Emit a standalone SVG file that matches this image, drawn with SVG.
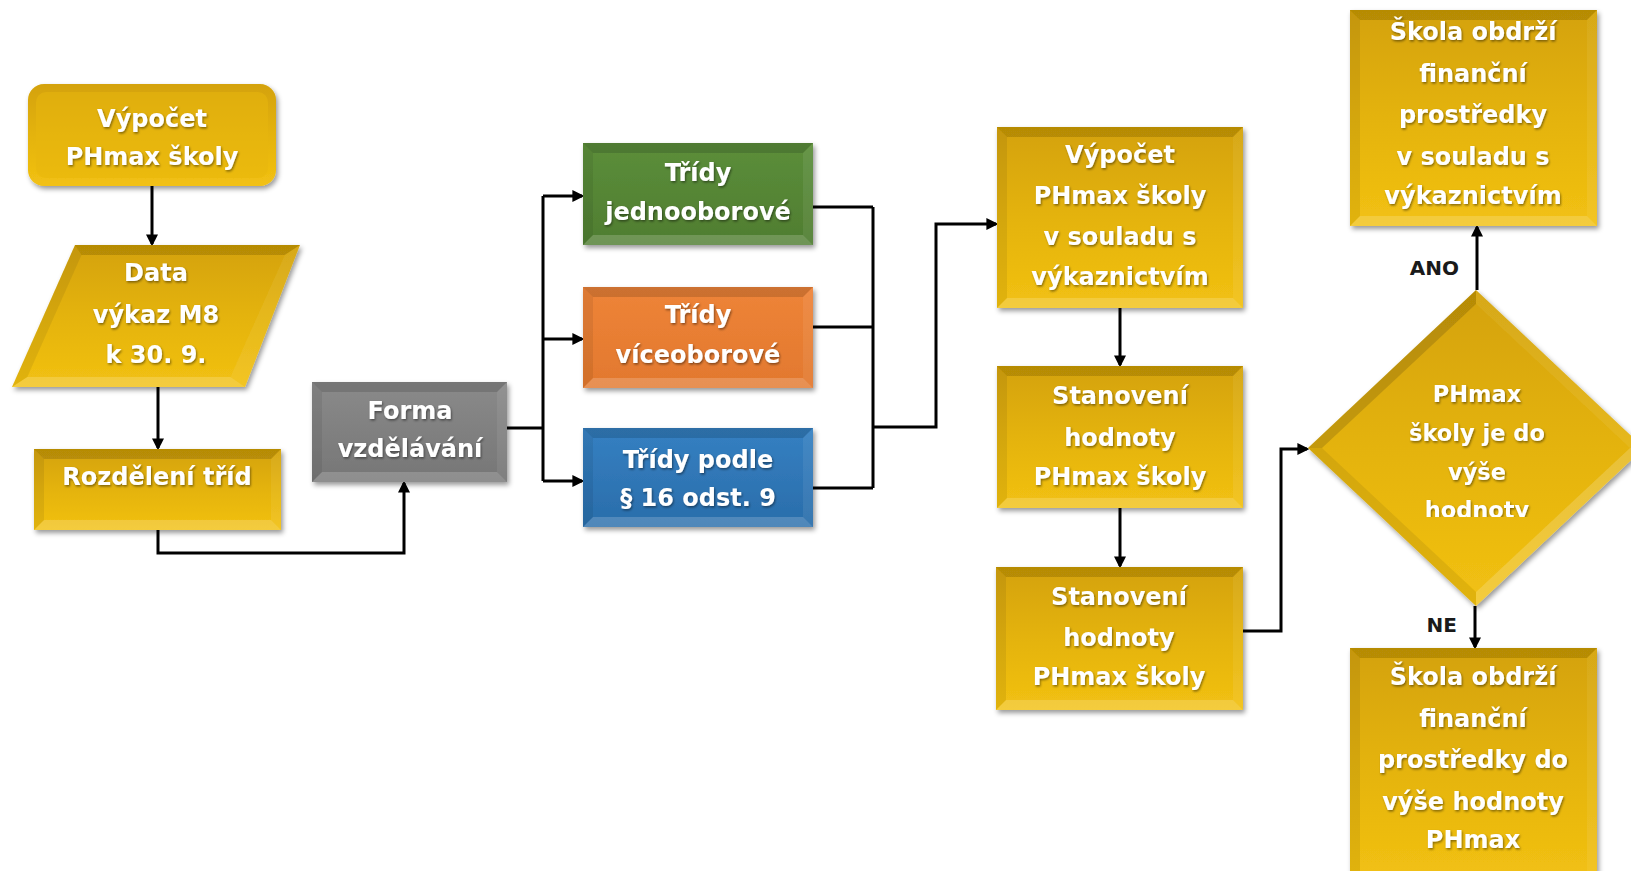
<svg xmlns="http://www.w3.org/2000/svg" width="1631" height="871" viewBox="0 0 1631 871">
<defs>
<style>
.t{font-family:"DejaVu Sans","Liberation Sans",sans-serif;font-weight:bold;font-size:24px;fill:#fff;text-anchor:middle}
.td{font-size:22.5px}
.lbl{font-family:"DejaVu Sans","Liberation Sans",sans-serif;font-weight:bold;font-size:20px;fill:#1a1a1a;text-anchor:end}
.gold{fill:url(#gGold)}
.green{fill:url(#gGreen)}
.orange{fill:url(#gOrange)}
.blue{fill:url(#gBlue)}
.gray{fill:url(#gGray)}
.bt{fill:#000;opacity:.14}
.bl{fill:#000;opacity:.07}
.bb{fill:#fff;opacity:.18}
.br{fill:#fff;opacity:.07}
.c{fill:none;stroke:#000;stroke-width:3;stroke-linejoin:miter}
.a{marker-end:url(#ah)}
</style>
<linearGradient id="gGold" x1="0" y1="0" x2="0" y2="1">
<stop offset="0" stop-color="#D4A208"/><stop offset="0.5" stop-color="#E4B30C"/><stop offset="1" stop-color="#F2C113"/>
</linearGradient>
<linearGradient id="gGreen" x1="0" y1="0" x2="0" y2="1">
<stop offset="0" stop-color="#5C8E3A"/><stop offset="1" stop-color="#4F7D31"/>
</linearGradient>
<linearGradient id="gOrange" x1="0" y1="0" x2="0" y2="1">
<stop offset="0" stop-color="#EE8438"/><stop offset="1" stop-color="#E2782E"/>
</linearGradient>
<linearGradient id="gBlue" x1="0" y1="0" x2="0" y2="1">
<stop offset="0" stop-color="#3580C2"/><stop offset="1" stop-color="#2A6DAA"/>
</linearGradient>
<linearGradient id="gGray" x1="0" y1="0" x2="0" y2="1">
<stop offset="0" stop-color="#8A8A8A"/><stop offset="1" stop-color="#767676"/>
</linearGradient>
<filter id="sh" x="-10%" y="-10%" width="125%" height="130%">
<feDropShadow dx="2" dy="3" stdDeviation="2.5" flood-color="#000" flood-opacity="0.4"/>
</filter>
<filter id="ts" x="-10%" y="-20%" width="120%" height="150%">
<feDropShadow dx="1" dy="1.5" stdDeviation="1" flood-color="#000" flood-opacity="0.45"/>
</filter>
<clipPath id="dclip"><rect x="1300" y="280" width="340" height="237"/></clipPath>
<marker id="ah" viewBox="0 0 10 10" refX="8" refY="5" markerWidth="4" markerHeight="4" markerUnits="strokeWidth" orient="auto">
<path d="M0,0 L10,5 L0,10 z" fill="#000"/>
</marker>
</defs>

<rect width="1631" height="871" fill="#fff"/>

<g id="connectors">
<path class="c a" d="M152,186 V244"/>
<path class="c a" d="M158,387 V448"/>
<path class="c a" d="M158,530 V553 H404 V483"/>
<path class="c" d="M507,428 H543 M543,196 V481"/>
<path class="c a" d="M543,196 H582"/>
<path class="c a" d="M543,339 H582"/>
<path class="c a" d="M543,481 H582"/>
<path class="c" d="M813,207 H873 M813,327 H873 M813,488 H873 M873,207 V488"/>
<path class="c a" d="M873,427 H936 V224 H996"/>
<path class="c a" d="M1120,308 V365"/>
<path class="c a" d="M1120,508 V566"/>
<path class="c a" d="M1243,631 H1281 V449 H1307"/>
<path class="c a" d="M1477,290 V227"/>
<path class="c a" d="M1475,606 V647"/>
<text class="lbl" x="1459" y="275">ANO</text>
<text class="lbl" x="1457" y="632">NE</text>
</g>

<g id="n-vypocet">
<g filter="url(#sh)">
<rect x="28" y="84" width="248" height="102" rx="16" class="gold"/>
<rect x="36" y="92" width="232" height="86" rx="10" fill="#E7B70E" opacity="0.55"/>
</g>
<g filter="url(#ts)">
<text class="t" x="152" y="127">Výpočet</text>
<text class="t" x="152" y="165">PHmax školy</text>
</g>
</g>

<g id="n-data">
<g filter="url(#sh)">
<polygon class="gold" points="75,245 300,245 245,387 12,387"/>
<polygon class="bt" points="75,245 300,245 284.7,255 81.5,255"/>
<polygon class="bb" points="12,387 245,387 230.5,377 27.3,377"/>
<polygon class="bl" points="75,245 81.5,255 27.3,377 12,387"/>
<polygon class="br" points="300,245 284.7,255 230.5,377 245,387"/>
</g>
<g filter="url(#ts)">
<text class="t" x="156" y="281">Data</text>
<text class="t" x="156" y="323">výkaz M8</text>
<text class="t" x="156" y="363">k 30. 9.</text>
</g>
</g>

<g id="n-rozdeleni">
<g filter="url(#sh)">
<rect x="34" y="449" width="247" height="81" class="gold"/>
<polygon class="bt" points="34,449 281,449 271,459 44,459"/>
<polygon class="bb" points="34,530 281,530 271,520 44,520"/>
<polygon class="bl" points="34,449 44,459 44,520 34,530"/>
<polygon class="br" points="281,449 271,459 271,520 281,530"/>
</g>
<g filter="url(#ts)">
<text class="t" x="157" y="485">Rozdělení tříd</text>
</g>
</g>

<g id="n-forma">
<g filter="url(#sh)">
<rect x="312" y="382" width="195" height="100" class="gray"/>
<polygon class="bt" points="312,382 507,382 497,392 322,392"/>
<polygon class="bb" points="312,482 507,482 497,472 322,472"/>
<polygon class="bl" points="312,382 322,392 322,472 312,482"/>
<polygon class="br" points="507,382 497,392 497,472 507,482"/>
</g>
<g filter="url(#ts)">
<text class="t" x="410" y="419">Forma</text>
<text class="t" x="410" y="457">vzdělávání</text>
</g>
</g>

<g id="n-jednooborove">
<g filter="url(#sh)">
<rect x="583" y="143" width="230" height="102" class="green"/>
<polygon class="bt" points="583,143 813,143 803,153 593,153"/>
<polygon class="bb" points="583,245 813,245 803,235 593,235"/>
<polygon class="bl" points="583,143 593,153 593,235 583,245"/>
<polygon class="br" points="813,143 803,153 803,235 813,245"/>
</g>
<g filter="url(#ts)">
<text class="t" x="698" y="181">Třídy</text>
<text class="t" x="698" y="220">jednooborové</text>
</g>
</g>

<g id="n-viceoborove">
<g filter="url(#sh)">
<rect x="583" y="287" width="230" height="101" class="orange"/>
<polygon class="bt" points="583,287 813,287 803,297 593,297"/>
<polygon class="bb" points="583,388 813,388 803,378 593,378"/>
<polygon class="bl" points="583,287 593,297 593,378 583,388"/>
<polygon class="br" points="813,287 803,297 803,378 813,388"/>
</g>
<g filter="url(#ts)">
<text class="t" x="698" y="323">Třídy</text>
<text class="t" x="698" y="363">víceoborové</text>
</g>
</g>

<g id="n-paragraf">
<g filter="url(#sh)">
<rect x="583" y="428" width="230" height="99" class="blue"/>
<polygon class="bt" points="583,428 813,428 803,438 593,438"/>
<polygon class="bb" points="583,527 813,527 803,517 593,517"/>
<polygon class="bl" points="583,428 593,438 593,517 583,527"/>
<polygon class="br" points="813,428 803,438 803,517 813,527"/>
</g>
<g filter="url(#ts)">
<text class="t" x="698" y="468">Třídy podle</text>
<text class="t" x="698" y="506">§ 16 odst. 9</text>
</g>
</g>

<g id="n-vypocet-soulad">
<g filter="url(#sh)">
<rect x="997" y="127" width="246" height="181" class="gold"/>
<polygon class="bt" points="997,127 1243,127 1233,137 1007,137"/>
<polygon class="bb" points="997,308 1243,308 1233,298 1007,298"/>
<polygon class="bl" points="997,127 1007,137 1007,298 997,308"/>
<polygon class="br" points="1243,127 1233,137 1233,298 1243,308"/>
</g>
<g filter="url(#ts)">
<text class="t" x="1120" y="163">Výpočet</text>
<text class="t" x="1120" y="204">PHmax školy</text>
<text class="t" x="1120" y="245">v souladu s</text>
<text class="t" x="1120" y="285">výkaznictvím</text>
</g>
</g>

<g id="n-stanoveni-1">
<g filter="url(#sh)">
<rect x="997" y="366" width="246" height="142" class="gold"/>
<polygon class="bt" points="997,366 1243,366 1233,376 1007,376"/>
<polygon class="bb" points="997,508 1243,508 1233,498 1007,498"/>
<polygon class="bl" points="997,366 1007,376 1007,498 997,508"/>
<polygon class="br" points="1243,366 1233,376 1233,498 1243,508"/>
</g>
<g filter="url(#ts)">
<text class="t" x="1120" y="404">Stanovení</text>
<text class="t" x="1120" y="446">hodnoty</text>
<text class="t" x="1120" y="485">PHmax školy</text>
</g>
</g>

<g id="n-stanoveni-2">
<g filter="url(#sh)">
<rect x="996" y="567" width="247" height="143" class="gold"/>
<polygon class="bt" points="996,567 1243,567 1233,577 1006,577"/>
<polygon class="bb" points="996,710 1243,710 1233,700 1006,700"/>
<polygon class="bl" points="996,567 1006,577 1006,700 996,710"/>
<polygon class="br" points="1243,567 1233,577 1233,700 1243,710"/>
</g>
<g filter="url(#ts)">
<text class="t" x="1119" y="605">Stanovení</text>
<text class="t" x="1119" y="646">hodnoty</text>
<text class="t" x="1119" y="685">PHmax školy</text>
</g>
</g>

<g id="n-rozhodnuti">
<g filter="url(#sh)">
<polygon class="gold" points="1476,290 1644,448 1476,606 1308,448"/>
<polygon class="bt" points="1308,448 1476,290 1476,304 1322,448"/>
<polygon class="br" points="1476,290 1644,448 1630,448 1476,304"/>
<polygon class="bb" points="1644,448 1476,606 1476,592 1630,448"/>
<polygon class="bl" points="1476,606 1308,448 1322,448 1476,592"/>
</g>
<g filter="url(#ts)" clip-path="url(#dclip)">
<text class="t td" x="1477" y="402">PHmax</text>
<text class="t td" x="1477" y="441">školy je do</text>
<text class="t td" x="1477" y="480">výše</text>
<text class="t td" x="1477" y="518">hodnoty</text>
</g>
</g>

<g id="n-ano">
<g filter="url(#sh)">
<rect x="1350" y="10" width="247" height="216" class="gold"/>
<polygon class="bt" points="1350,10 1597,10 1587,20 1360,20"/>
<polygon class="bb" points="1350,226 1597,226 1587,216 1360,216"/>
<polygon class="bl" points="1350,10 1360,20 1360,216 1350,226"/>
<polygon class="br" points="1597,10 1587,20 1587,216 1597,226"/>
</g>
<g filter="url(#ts)">
<text class="t" x="1473" y="40">Škola obdrží</text>
<text class="t" x="1473" y="82">finanční</text>
<text class="t" x="1473" y="123">prostředky</text>
<text class="t" x="1473" y="165">v souladu s</text>
<text class="t" x="1473" y="204">výkaznictvím</text>
</g>
</g>

<g id="n-ne">
<g filter="url(#sh)">
<rect x="1350" y="648" width="247" height="232" class="gold"/>
<polygon class="bt" points="1350,648 1597,648 1587,658 1360,658"/>
<polygon class="bl" points="1350,648 1360,658 1360,880 1350,880"/>
<polygon class="br" points="1597,648 1587,658 1587,880 1597,880"/>
</g>
<g filter="url(#ts)">
<text class="t" x="1473" y="685">Škola obdrží</text>
<text class="t" x="1473" y="727">finanční</text>
<text class="t" x="1473" y="768">prostředky do</text>
<text class="t" x="1473" y="810">výše hodnoty</text>
<text class="t" x="1473" y="848">PHmax</text>
</g>
</g>
</svg>
